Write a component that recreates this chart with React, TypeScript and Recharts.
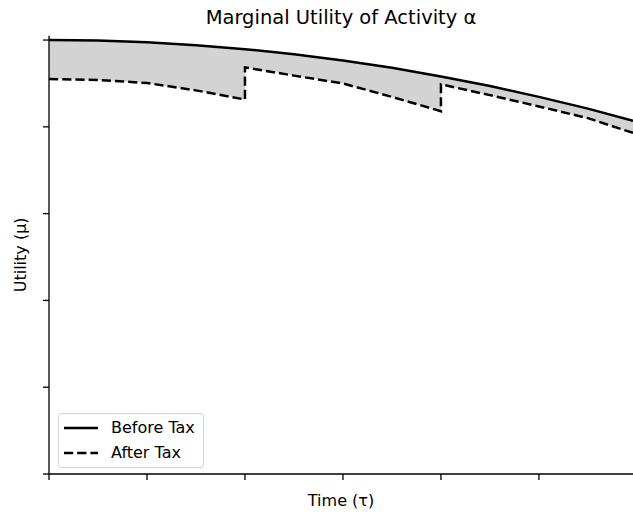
import { ComposedChart, Area, Line, XAxis, YAxis, Legend } from 'recharts'

// values (jumps at t = 2 and t = 4 appear twice)
const times = [0, 0.5, 1, 1.5, 2, 2, 2.5, 3, 3.5, 4, 4, 4.5, 5, 5.5, 5.96]
const beforeTax = [1.0, 0.999, 0.995, 0.988, 0.979, 0.979, 0.967, 0.953, 0.936, 0.916, 0.916, 0.894, 0.869, 0.842, 0.814]
const afterTax = [0.91, 0.908, 0.901, 0.884, 0.863, 0.937, 0.918, 0.9, 0.869, 0.836, 0.898, 0.873, 0.847, 0.82, 0.786]
const xTicks = [0, 1, 2, 3, 4, 5]
const yTicks = [0, 0.2, 0.4, 0.6, 0.8, 1.0]

const data = times.map((t, i) => ({
  t,
  before: beforeTax[i],
  after: afterTax[i],
  gap: [afterTax[i], beforeTax[i]],
}))

const FONT = '"DejaVu Sans", sans-serif'
const DASH = '9.2 4'

const legendItems = [
  { name: 'Before Tax', dash: undefined },
  { name: 'After Tax', dash: DASH },
]

// tick marks only, no labels
const NoLabel = () => <g />

function renderLegend() {
  return (
    <div
      style={{
        width: 144,
        height: 52,
        border: '1px solid #d4d4d4',
        borderRadius: 3,
        background: 'rgba(255,255,255,0.8)',
        fontFamily: FONT,
        fontSize: 16,
        color: '#000',
        paddingTop: 1,
      }}
    >
      {legendItems.map((it) => (
        <div key={it.name} style={{ display: 'flex', alignItems: 'center', height: 25 }}>
          <svg width={34} height={6} style={{ marginLeft: 5, marginRight: 13 }}>
            <line x1={0} y1={3} x2={34} y2={3} stroke="#000" strokeWidth={2.5} strokeDasharray={it.dash} />
          </svg>
          <span>{it.name}</span>
        </div>
      ))}
    </div>
  )
}

export default function App() {
  return (
    <div style={{ position: 'absolute', left: 0, top: 0, width: 633, height: 512, background: '#fff' }}>
      <div
        style={{
          position: 'absolute',
          top: 7,
          left: 49,
          width: 584,
          textAlign: 'center',
          fontFamily: FONT,
          fontSize: 19.5,
          lineHeight: '22px',
          color: '#000',
        }}
      >
        Marginal Utility of Activity α
      </div>
      <ComposedChart width={633} height={512} data={data} margin={{ top: 35.7, right: 0, bottom: 0, left: 0 }}>
        <XAxis
          dataKey="t"
          type="number"
          domain={[0, 5.96]}
          ticks={xTicks}
          tick={NoLabel}
          tickSize={6}
          height={38}
          axisLine={{ stroke: '#000', strokeWidth: 1.3 }}
          tickLine={{ stroke: '#000', strokeWidth: 1.3 }}
          label={{ value: 'Time (τ)', position: 'insideBottom', offset: 6, fill: '#000', fontSize: 16, fontFamily: FONT }}
        />
        <YAxis
          type="number"
          domain={[0, 1.01]}
          ticks={yTicks}
          tick={NoLabel}
          tickSize={6}
          width={49}
          axisLine={{ stroke: '#000', strokeWidth: 1.3 }}
          tickLine={{ stroke: '#000', strokeWidth: 1.3 }}
          label={{
            value: 'Utility (μ)',
            angle: -90,
            position: 'insideLeft',
            offset: 20,
            fill: '#000',
            fontSize: 16,
            fontFamily: FONT,
            style: { textAnchor: 'middle' },
          }}
        />
        <Area
          type="linear"
          dataKey="gap"
          stroke="none"
          fill="#d3d3d3"
          fillOpacity={1}
          legendType="none"
          activeDot={false}
          isAnimationActive={false}
        />
        <Line
          type="linear"
          dataKey="before"
          name="Before Tax"
          stroke="#000"
          strokeWidth={2.5}
          dot={false}
          activeDot={false}
          isAnimationActive={false}
        />
        <Line
          type="linear"
          dataKey="after"
          name="After Tax"
          stroke="#000"
          strokeWidth={2.5}
          strokeDasharray={DASH}
          dot={false}
          activeDot={false}
          isAnimationActive={false}
        />
        <Legend
          layout="horizontal"
          verticalAlign="middle"
          align="center"
          content={renderLegend}
          wrapperStyle={{ left: 58, top: 413, width: 146, height: 54 }}
        />
      </ComposedChart>
    </div>
  )
}
